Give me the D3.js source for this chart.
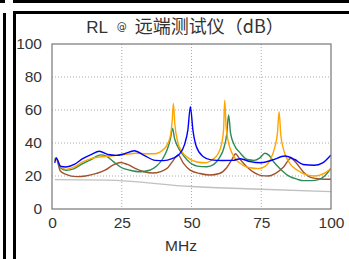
<!DOCTYPE html>
<html>
<head>
<meta charset="utf-8">
<script src="https://cdn.jsdelivr.net/npm/d3@7"></script>
<style>
  body { margin: 0; background: #fff; }
  svg { display: block; }
  .narrow { font-family: "Liberation Sans", Arial, sans-serif; }
  .tick text { font-family: "Liberation Sans", Arial, sans-serif; font-size: 15.5px; fill: #333; }
</style>
</head>
<body>
<script>
// RL readings, x in MHz, y in dB
const blueF = [1, 1.5, 3, 5, 8, 11, 14, 17, 20, 23, 26, 29.5, 33, 37, 40, 43, 45.5, 47.5, 48.7, 49.6, 50.5, 51.7, 54, 57, 61, 65, 67.5, 71, 75, 79, 83.5, 87, 90, 94, 97, 100]
const blueV = [28, 31, 26, 25.5, 27, 30.5, 33, 35, 33, 32.5, 33.5, 35.3, 32.5, 29.5, 29.3, 30.5, 33, 39, 48, 62, 48, 38, 32, 29.8, 29.4, 29.5, 30.5, 28.7, 28, 29.7, 32.1, 30, 27, 26.5, 28, 32.8]

const orangeF = [1, 1.5, 3, 5, 8, 11, 14, 17, 20, 23, 26, 30, 34, 37, 39.5, 41.3, 42.5, 43.1, 43.5, 44, 45, 46.5, 49, 52, 55, 57.5, 59.5, 60.8, 61.5, 61.9, 62.4, 63.3, 64.5, 66.2, 68.5, 71, 74, 76.5, 78.3, 79.8, 80.8, 81.4, 82, 83, 85.3, 88, 91, 94, 96, 98, 100]
const orangeV = [29, 31, 26, 24, 25.5, 28.5, 30.5, 31.5, 32, 32.5, 33, 33.8, 33.5, 33.5, 35.5, 39, 45, 54, 64, 52, 41, 35, 30.7, 28.5, 28, 30, 33.5, 39.5, 48, 66, 50, 40, 34, 29.5, 26.5, 25, 24.5, 26, 30, 37, 46, 59, 45, 36, 27.5, 23.5, 20.8, 20, 20.5, 22, 24.7]

const greenF = [1, 1.5, 3, 5, 8, 11, 14, 17.5, 19.5, 22, 25, 28, 31.5, 35, 37.5, 39.5, 41.3, 42.5, 43.2, 43.9, 45, 47, 49.5, 52, 55.5, 58, 60, 61.6, 62.6, 63.3, 64, 65.3, 67.4, 70, 72.5, 74.5, 76.3, 77.8, 79.5, 82, 85.3, 88, 90, 93, 95.5, 98, 100]
const greenV = [30, 31, 25, 23.5, 24.5, 27.5, 30, 32.8, 32, 28.7, 25, 23.5, 22.6, 23.5, 26, 30, 36, 43, 49, 43, 38, 32.7, 28, 26, 25.6, 27, 31, 37, 45, 57, 46, 39, 34, 30, 29.5, 31, 33.8, 32.5, 28.5, 24, 19.6, 18, 17.2, 17.2, 17.8, 20.5, 24.7]

const brownF = [1, 1.5, 3, 5, 8.8, 12, 16, 19, 22, 24.5, 27, 30, 33, 36, 39, 41.5, 43.5, 45.2, 47, 49.5, 53, 56.6, 60, 62.6, 64.5, 65.8, 67, 69.8, 72.5, 75, 77.5, 80, 83, 85.6, 87.5, 90, 93, 96, 100]
const brownV = [30, 30.5, 23, 21, 19.6, 20, 21.6, 23.5, 26.7, 28.2, 27, 24.5, 22.6, 21.8, 22.7, 25, 29.5, 32.8, 28, 23.6, 21.5, 20.6, 21.5, 25, 30, 33.5, 31, 25.6, 22, 20.2, 20, 21.5, 25.5, 30.8, 28, 22.6, 19, 18.2, 18]

// limit line
const limitF = [1, 20, 50, 75, 100]
const limitV = [17.8, 17.5, 13.6, 12, 10.5]

const xTicks = [0, 25, 50, 75, 100]
const yTicks = [0, 20, 40, 60, 80, 100]

const series = [
  { f: limitF, v: limitV, color: "#c0c0c0" },
  { f: brownF, v: brownV, color: "#a0522d" },
  { f: greenF, v: greenV, color: "#2e8b57" },
  { f: orangeF, v: orangeV, color: "#ffa500" },
  { f: blueF, v: blueV, color: "#0000ff" }
]

const W = 349, H = 259
const plot = { left: 52, right: 331, top: 44, bottom: 209 }

const svg = d3.select("body").append("svg")
    .attr("width", W)
    .attr("height", H)

// panel frames
svg.append("rect").attr("x", 14.5).attr("y", 12.5).attr("width", 400).attr("height", 400)
    .attr("fill", "#fff").attr("stroke", "#000").attr("stroke-width", 3)
svg.append("line").attr("x1", 13).attr("x2", W).attr("y1", 1.5).attr("y2", 1.5)
    .attr("stroke", "#000").attr("stroke-width", 3)
svg.append("line").attr("x1", 0).attr("x2", 5).attr("y1", 1.5).attr("y2", 1.5)
    .attr("stroke", "#000").attr("stroke-width", 3)
svg.append("line").attr("x1", 4.5).attr("x2", 4.5).attr("y1", 13).attr("y2", H)
    .attr("stroke", "#000").attr("stroke-width", 3)

var x = d3.scaleLinear().domain([0, 100]).range([plot.left, plot.right])
var y = d3.scaleLinear().domain([0, 100]).range([plot.bottom, plot.top])

// dotted grid
svg.append("g").selectAll("line")
    .data(yTicks.filter(d => d > 0 && d < 100))
  .enter().append("line")
    .attr("x1", plot.left).attr("x2", plot.right)
    .attr("y1", d => y(d)).attr("y2", d => y(d))
    .attr("stroke", "#aaa").attr("stroke-dasharray", "1,2")
svg.append("g").selectAll("line")
    .data(xTicks.filter(d => d > 0 && d < 100))
  .enter().append("line")
    .attr("y1", plot.top).attr("y2", plot.bottom)
    .attr("x1", d => x(d)).attr("x2", d => x(d))
    .attr("stroke", "#aaa").attr("stroke-dasharray", "1,2")

svg.append("clipPath").attr("id", "clip")
  .append("rect").attr("x", plot.left).attr("y", plot.top)
    .attr("width", plot.right - plot.left).attr("height", plot.bottom - plot.top)

var line = d3.line()
    .x(d => x(d[0]))
    .y(d => y(d[1]))
    .curve(d3.curveMonotoneX)

svg.append("g").attr("clip-path", "url(#clip)")
  .selectAll("path")
    .data(series)
  .enter().append("path")
    .attr("d", s => line(s.f.map((f, i) => [f, s.v[i]])))
    .attr("fill", "none")
    .attr("stroke", s => s.color)
    .attr("stroke-width", 1.4)

// plot frame
svg.append("rect").attr("x", plot.left).attr("y", plot.top)
    .attr("width", plot.right - plot.left).attr("height", plot.bottom - plot.top)
    .attr("fill", "none").attr("stroke", "#777").attr("stroke-width", 1.2)

// axes
svg.append("g")
    .attr("transform", `translate(0, ${plot.bottom})`)
    .call(d3.axisBottom(x).tickValues(xTicks).tickSize(0).tickPadding(8))
    .call(g => g.select(".domain").remove())

svg.append("g")
    .attr("transform", `translate(${plot.left}, 0)`)
    .call(d3.axisLeft(y).tickValues(yTicks).tickSize(0).tickPadding(10))
    .call(g => g.select(".domain").remove())

// title
var title = svg.append("text")
    .attr("x", 185).attr("y", 33)
    .attr("text-anchor", "middle")
    .attr("fill", "#333")
    .style("white-space", "pre")
    .style("font-size", "18px")
title.append("tspan").attr("class", "narrow").style("font-size", "17px").text("RL  ")
title.append("tspan").style("font-family", "'DejaVu Sans', sans-serif").style("font-size", "10px").attr("dy", -3).text("@")
title.append("tspan").style("font-family", "'Noto Sans CJK SC', sans-serif").attr("dy", 3).text("  远端测试仪（dB）")

svg.append("text")
    .attr("class", "narrow")
    .attr("x", 181).attr("y", 251)
    .attr("text-anchor", "middle")
    .attr("fill", "#333")
    .style("font-size", "15.5px")
    .text("MHz")
</script>
</body>
</html>
